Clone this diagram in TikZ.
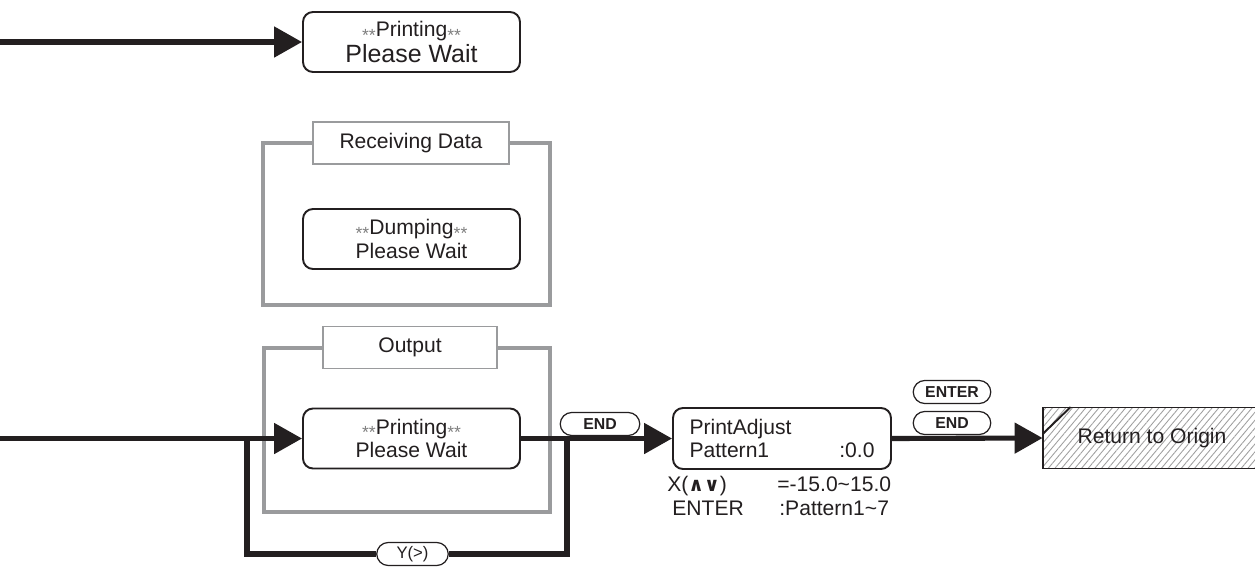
\documentclass[tikz,border=0pt]{standalone}
\usepackage{fontspec}
\setmainfont{Liberation Sans}
\newfontfamily\symfont{DejaVu Sans}
\usetikzlibrary{arrows.meta, positioning, calc, shapes.misc, patterns.meta}
\definecolor{framegray}{HTML}{9A9B9D}
\definecolor{stargray}{HTML}{808080}
\definecolor{hatchgray}{HTML}{A0A0A0}
\definecolor{ink}{HTML}{231F20}

\newcommand{\lcdstars}{\raisebox{-2.6pt}{\fontsize{10}{10}\selectfont\color{stargray}**}}

\begin{document}
\begin{tikzpicture}[
  mainline/.style={line width=2.9pt, ink},
  flow/.style={mainline, -{Triangle[length=0.56cm, width=0.6cm]}},
  lcd/.style={
    draw=ink, line width=1.1pt, fill=white, rounded corners=0.2cm,
    minimum width=4.34cm, minimum height=1.2cm, align=center,
    font=\fontsize{12}{13.6}\selectfont, text=ink, inner sep=2pt
  },
  grpframe/.style={draw=framegray, line width=2.3pt},
  grplabel/.style={
    draw=framegray, line width=1.1pt, fill=white,
    minimum height=0.84cm, font=\fontsize{12}{14}\selectfont, text=ink
  },
  keycap/.style={
    rounded rectangle, draw=ink, line width=0.7pt, fill=white,
    minimum width=1.62cm, minimum height=0.46cm, inner sep=1pt,
    font=\fontsize{9}{9}\selectfont\bfseries, text=ink
  },
  note/.style={font=\fontsize{12}{13.6}\selectfont, text=ink, inner sep=0pt},
  dest/.style={
    draw=ink, line width=1.1pt,
    pattern={Lines[angle=50, distance=2.9pt, line width=0.5pt]},
    pattern color=hatchgray,
    minimum width=4.36cm, minimum height=1.22cm,
    font=\fontsize{12}{14}\selectfont, text=ink
  },
]
\useasboundingbox (0,0) rectangle (25.1,-11.36);

% Top: printing
\coordinate (in1) at (0,-0.84);
\node[lcd] (prt1) at (8.23,-0.84)
  {\lcdstars Printing\lcdstars\\[1pt] {\fontsize{14.2}{15}\selectfont Please Wait}};
\draw[flow] (in1) -- (prt1.west);

% Receiving data group
\draw[grpframe] (5.26,-2.86) rectangle (11.0,-6.1);
\node[grplabel, minimum width=3.92cm] (rcvlbl) at (8.22,-2.86) {Receiving Data};
\node[lcd] (dmp) at (8.23,-4.78)
  {\lcdstars Dumping\lcdstars\\ Please Wait};

% Output group
\draw[grpframe] (5.28,-6.96) rectangle (11.0,-10.24);
\node[grplabel, minimum width=3.48cm] (outlbl) at (8.2,-6.95) {Output};
\node[lcd] (prt2) at (8.23,-8.77)
  {\lcdstars Printing\lcdstars\\ Please Wait};

% Print adjust display
\node[lcd, text width=3.7cm, align=left, minimum width=4.36cm, minimum height=1.22cm]
  (padj) at (15.64,-8.77)
  {PrintAdjust\\ Pattern1\hfill:0.0};
\node[note, anchor=base west] (padjnote) at ($(padj.south west)+(-0.1,-0.44)$)
  {\begin{tabular}[t]{@{}p{2.2cm}@{}l@{}}
     X({\symfont\bfseries\fontsize{11}{11}\selectfont ∧∨}) & =-15.0\textasciitilde 15.0\\
     \hspace{0.1cm}ENTER & \hspace{0.04cm}:Pattern1\textasciitilde 7
   \end{tabular}};

% Destination
\node[dest] (ret) at (23.04,-8.76) {Return to Origin};
\draw[ink, line width=1.1pt] ($(ret.north west)+(0,-0.54)$) -- ($(ret.north west)+(0.56,0)$);

% Main flow and loop
\coordinate (in2) at (0,-8.77);
\coordinate (br1) at (4.94,-8.77);
\coordinate (br2) at (11.34,-8.77);
\node[keycap, font=\fontsize{9.5}{9.5}\selectfont, minimum width=1.5cm] (ykey) at (8.25,-11.08) {Y(>)};
\draw[flow] (in2) -- (prt2.west);
\draw[flow] (prt2.east) -- (padj.west);
\draw[mainline] (br1) |- (ykey.west);
\draw[mainline] (ykey.east) -| (br2);
\draw[flow] (padj.east) -- (ret.west);

% Keys
\node[keycap, minimum width=1.66cm] (endkey) at (12.0,-8.48) {END};
\node[keycap] (enterkey2) at (19.04,-7.84) {ENTER};
\node[keycap] (endkey2) at (19.04,-8.46) {END};

\end{tikzpicture}
\end{document}
